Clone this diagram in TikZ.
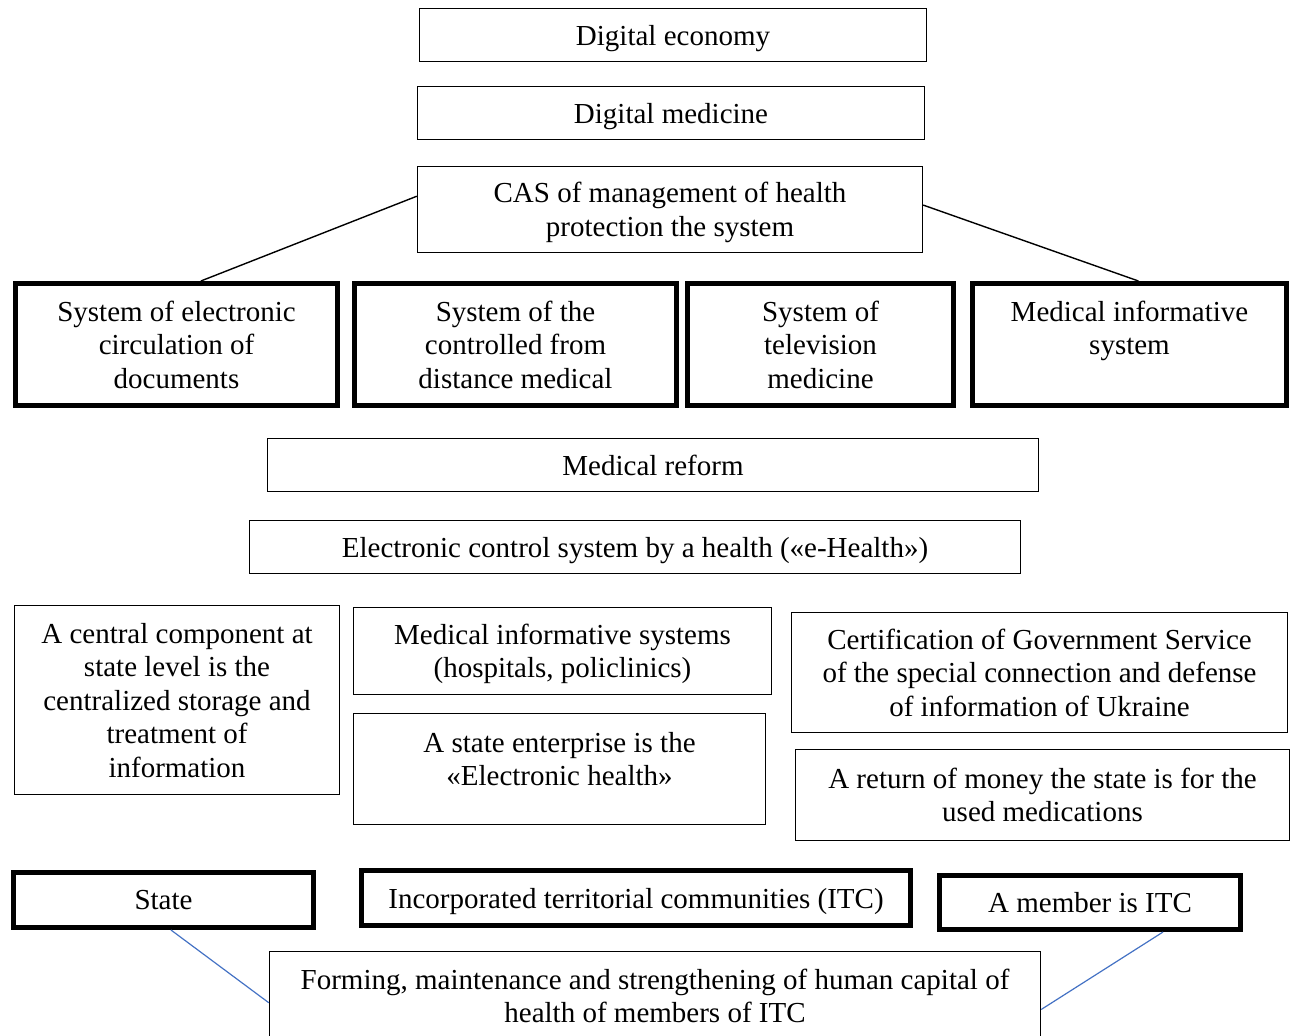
\documentclass[tikz,border=0pt]{standalone}
\usepackage{fontspec}
\setmainfont{Liberation Serif}
\definecolor{linkblue}{RGB}{68,114,196}
\tikzset{box/.style = {draw, line width=1.4pt, align=center, inner sep=0pt, text depth=0pt}}
\tikzset{bigbox/.style = {box, line width=5pt}}
\tikzset{link/.style = {line width=1.4pt}}
\tikzset{bluelink/.style = {line width=1.2pt, draw=linkblue}}

\begin{document}
\begin{tikzpicture}[x=1pt, y=-1pt, font=\fontsize{29pt}{33.5pt}\selectfont]
          \useasboundingbox (0, 0) rectangle (1291, 1036);

          \node[box, minimum width=507pt, minimum height=53pt] (econ) at (673, 35) {Digital economy};
          \node[box, minimum width=507pt, minimum height=53pt] (digmed) at (671, 113) {Digital medicine};
          \node[box, minimum width=505pt, minimum height=86pt] (cas) at (670, 209.5) {CAS of management of health\\protection the system};

          \node[bigbox, minimum width=322pt, minimum height=122pt] (sysdoc) at (176.5, 344.5) {System of electronic\\circulation of\\documents};
          \node[bigbox, minimum width=322pt, minimum height=122pt] (sysdist) at (515.5, 344.5) {System of the\\controlled from\\distance medical};
          \node[bigbox, minimum width=266pt, minimum height=122pt] (systv) at (820.5, 344.5) {System of\\television\\medicine};
          \node[bigbox, minimum width=314pt, minimum height=122pt] (medinf) at (1129.5, 344.5) {Medical informative\\system\\\strut};

          \node[box, minimum width=771pt, minimum height=53pt] (reform) at (653, 465) {Medical reform};
          \node[box, minimum width=771pt, minimum height=53pt] (ehealth) at (635, 547) {Electronic control system by a health («e-Health»)};

          \node[box, minimum width=325pt, minimum height=189pt] (central) at (177, 700) {A central component at\\state level is the\\centralized storage and\\treatment of\\information};
          \node[box, minimum width=418pt, minimum height=87pt] (mis) at (562.5, 651) {Medical informative systems\\(hospitals, policlinics)};
          \node[box, minimum width=412pt, minimum height=111pt] (enterprise) at (559.5, 769) {A state enterprise is the\\«Electronic health»\\[-13.5pt]\mbox{}};
          \node[box, minimum width=496pt, minimum height=120pt] (cert) at (1039.5, 672.5) {Certification of Government Service\\of the special connection and defense\\of information of Ukraine};
          \node[box, minimum width=494pt, minimum height=91pt] (refund) at (1042.5, 795) {A return of money the state is for the\\used medications};

          \node[bigbox, minimum width=300pt, minimum height=55pt] (state) at (163.5, 900) {State};
          \node[bigbox, minimum width=549pt, minimum height=55pt] (itc) at (636, 898) {Incorporated territorial communities (ITC)};
          \node[bigbox, minimum width=301pt, minimum height=54pt] (member) at (1090, 902.5) {A member is ITC};
          \node[box, minimum width=771pt, minimum height=89pt] (forming) at (655, 996) {Forming, maintenance and strengthening of human capital of\\health of members of ITC};

          \draw[link] (cas.177) -- (sysdoc.69);
          \draw[link] (cas.1) -- (medinf.82);
          \draw[bluelink] (state.-76) -- (forming.181);
          \draw[bluelink] (member.-22) -- (forming.-2);
        \end{tikzpicture}
\end{document}
